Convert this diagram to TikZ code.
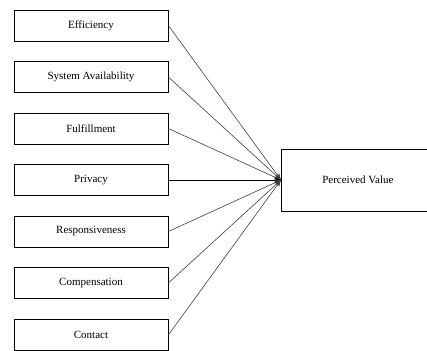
\documentclass[tikz,border=0pt]{standalone}
\usepackage{fontspec}
\setmainfont{Liberation Serif}
\usetikzlibrary{arrows.meta,positioning}

\begin{document}
\begin{tikzpicture}[x=1pt, y=-1pt,
    dim/.style={draw, line width=0.7pt, minimum width=154pt, minimum height=31pt, inner sep=0pt, font=\fontsize{11}{13}\selectfont},
    outc/.style={draw, line width=0.7pt, minimum width=153pt, minimum height=62pt, inner sep=0pt, font=\fontsize{11}{13}\selectfont},
    arr/.style={-{Stealth[length=7pt, width=5pt]}, black!75, line width=0.6pt}
]
\useasboundingbox (0,0) rectangle (427,350);

\node[dim] (eff) at (91,25.5) {Efficiency};
\node[dim] (sys) at (91,77) {System Availability};
\node[dim] (ful) at (91,128.5) {Fulfillment};
\node[dim] (pri) at (91,180) {Privacy};
\node[dim] (res) at (91,231.5) {Responsiveness};
\node[dim] (com) at (91,283) {Compensation};
\node[dim] (con) at (91,335) {Contact};

\node[outc, anchor=west] (pv) at (281,180) {Perceived Value};

\draw[arr] (eff.east) -- (pv.west);
\draw[arr] (sys.east) -- (pv.west);
\draw[arr] (ful.east) -- (pv.west);
\draw[arr, black] (pri.east) -- (pv.west);
\draw[arr] (res.east) -- (pv.west);
\draw[arr] (com.east) -- (pv.west);
\draw[arr] (con.east) -- (pv.west);
\end{tikzpicture}
\end{document}
